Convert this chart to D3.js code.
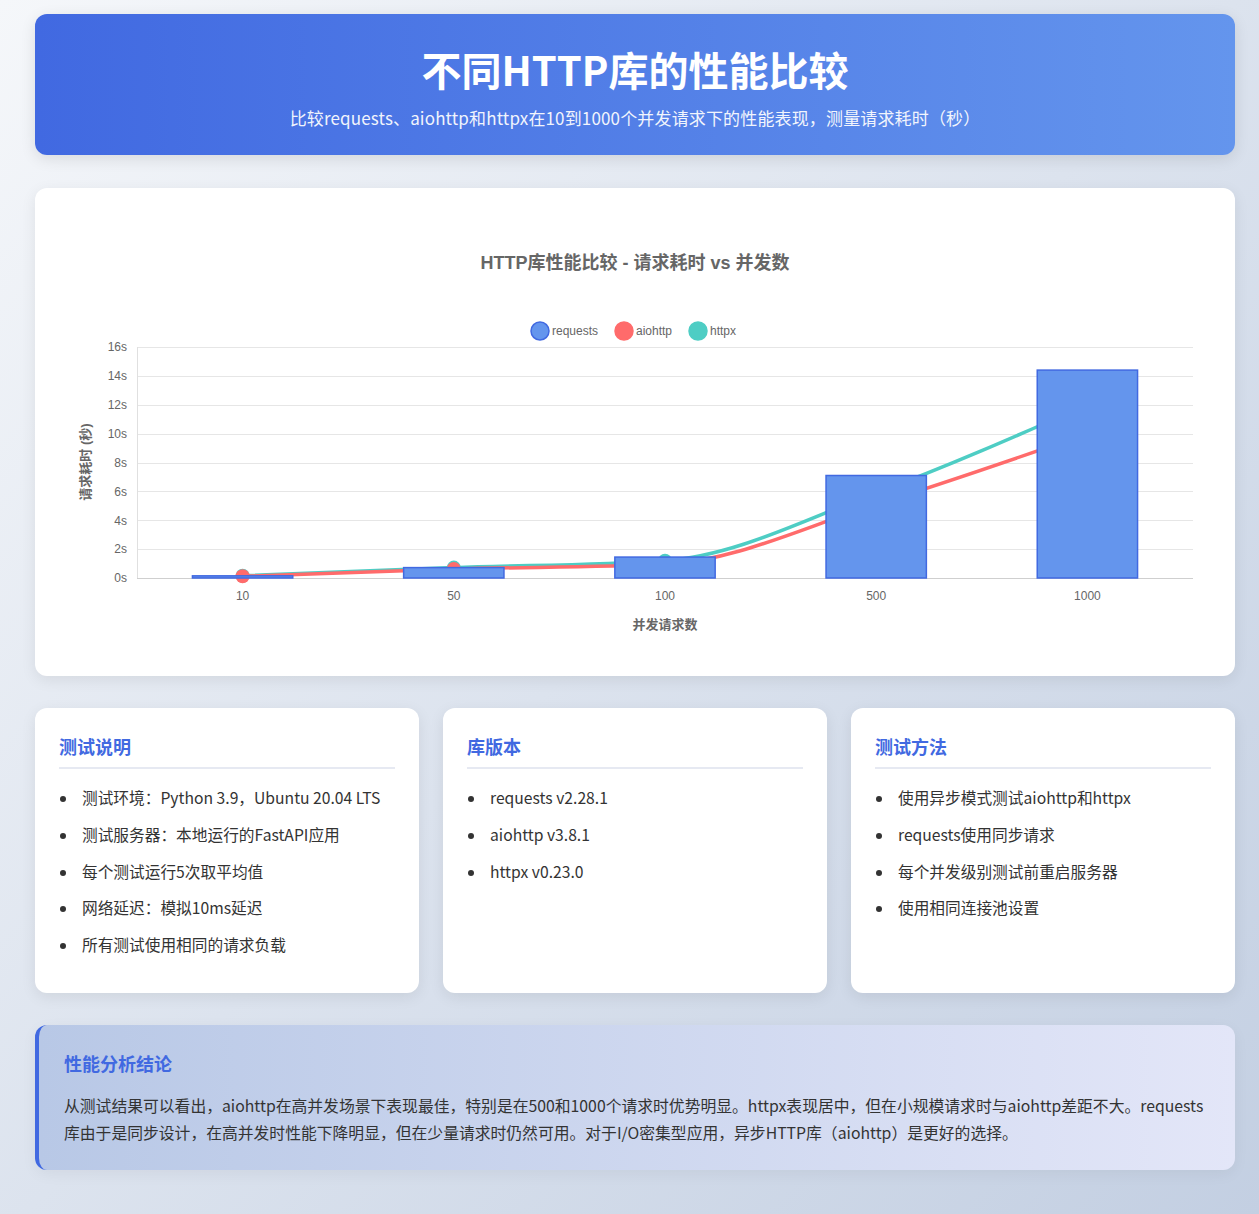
<!DOCTYPE html>
<html lang="zh-CN">
<head>
<meta charset="utf-8">
<script src="https://cdn.jsdelivr.net/npm/d3@7"></script>
<style>
  * { box-sizing: border-box; margin: 0; padding: 0; }
  html, body { width: 1259px; height: 1214px; overflow: hidden; }
  body {
    background: linear-gradient(135deg, #f5f7fa 0%, #c3cfe2 100%);
    font-family: "Noto Sans CJK SC", sans-serif;
    color: #333;
    position: relative;
  }
  .header {
    position: absolute; left: 35px; top: 14px; width: 1200px; height: 141px;
    border-radius: 12px;
    background: linear-gradient(90deg, #4169e1 0%, #6495ed 100%);
    box-shadow: 0 4px 15px rgba(0,0,0,0.1);
    color: #fff; text-align: center;
  }
  .header h1 {
    position: absolute; left: 0; right: 0; top: 25px;
    font-size: 40px; font-weight: 700; line-height: 60px;
  }
  .header p {
    position: absolute; left: 0; right: 0; top: 92px;
    font-size: 17px; line-height: 24px; opacity: 0.92; letter-spacing: 0.15px;
  }
  .card {
    position: absolute; background: #fff; border-radius: 12px;
    box-shadow: 0 4px 15px rgba(0,0,0,0.08);
  }
  #chartCard { left: 35px; top: 188px; width: 1200px; height: 488px; }
  .info { top: 708px; width: 384px; height: 285px; padding: 21px 24px; }
  .info h3 {
    font-size: 18px; font-weight: 700; color: #4169e1;
    line-height: 34px; padding-bottom: 4px;
    border-bottom: 2px solid #e6e9f2;
  }
  .info ul { list-style: none; margin-top: 11px; }
  .info li {
    position: relative; padding-left: 23px;
    font-size: 15.7px; line-height: 36.8px; color: #333;
  }
  .info li::before {
    content: ""; position: absolute; left: 1px; top: 16px;
    width: 6px; height: 6px; border-radius: 50%; background: #333;
  }
  .concl {
    position: absolute; left: 35px; top: 1025px; width: 1200px; height: 145px;
    border-radius: 12px; border-left: 4px solid #4169e1;
    background: linear-gradient(90deg, #b8c8e6 0%, #e3e6f8 100%);
    padding: 23px 25px;
    box-shadow: 0 4px 15px rgba(0,0,0,0.05);
  }
  .concl h3 {
    font-size: 18px; font-weight: 700; color: #4169e1; line-height: 30px;
  }
  .concl p { margin-top: 14px; font-size: 15.8px; line-height: 27px; color: #333; white-space: nowrap; }
</style>
</head>
<body>
<div class="header">
  <h1>不同HTTP库的性能比较</h1>
  <p>比较requests、aiohttp和httpx在10到1000个并发请求下的性能表现，测量请求耗时（秒）</p>
</div>
<div class="card" id="chartCard"></div>

<div class="card info" style="left:35px">
  <h3>测试说明</h3>
  <ul>
    <li>测试环境：Python 3.9，Ubuntu 20.04 LTS</li>
    <li>测试服务器：本地运行的FastAPI应用</li>
    <li>每个测试运行5次取平均值</li>
    <li>网络延迟：模拟10ms延迟</li>
    <li>所有测试使用相同的请求负载</li>
  </ul>
</div>
<div class="card info" style="left:443px">
  <h3>库版本</h3>
  <ul>
    <li>requests v2.28.1</li>
    <li>aiohttp v3.8.1</li>
    <li>httpx v0.23.0</li>
  </ul>
</div>
<div class="card info" style="left:851px">
  <h3>测试方法</h3>
  <ul>
    <li>使用异步模式测试aiohttp和httpx</li>
    <li>requests使用同步请求</li>
    <li>每个并发级别测试前重启服务器</li>
    <li>使用相同连接池设置</li>
  </ul>
</div>

<div class="concl">
  <h3>性能分析结论</h3>
  <p>从测试结果可以看出，aiohttp在高并发场景下表现最佳，特别是在500和1000个请求时优势明显。httpx表现居中，但在小规模请求时与aiohttp差距不大。requests<br>库由于是同步设计，在高并发时性能下降明显，但在少量请求时仍然可用。对于I/O密集型应用，异步HTTP库（aiohttp）是更好的选择。</p>
</div>

<script>
// ---- data ----
const categories = ["10", "50", "100", "500", "1000"];
const requestsTimes = [0.15, 0.72, 1.45, 7.1, 14.4];
const aiohttpTimes = [0.12, 0.62, 0.95, 5.1, 10.0];
const httpxTimes = [0.16, 0.72, 1.2, 5.9, 12.0];
const yTickValues = [0, 2, 4, 6, 8, 10, 12, 14, 16];
const seriesNames = ["requests", "aiohttp", "httpx"];

// ---- chart ----
const W = 1200, H = 488;
const m = { left: 102, right: 42, top: 159, bottom: 98 };
const svg = d3.select("#chartCard").append("svg")
  .attr("width", W).attr("height", H)
  .style("font-family", "'Liberation Sans', Arial, 'Noto Sans CJK SC', sans-serif");

const x = d3.scaleBand().domain(categories).range([m.left, W - m.right]).paddingInner(0).paddingOuter(0);
const y = d3.scaleLinear().domain([0, 16]).range([H - m.bottom, m.top]);

// title
svg.append("text").attr("x", 600).attr("y", 75).attr("text-anchor", "middle")
  .attr("dominant-baseline", "central")
  .style("font-size", "18px").style("font-weight", "700").style("fill", "#666")
  .text("HTTP库性能比较 - 请求耗时 vs 并发数");

// legend
const legendItems = [
  { name: seriesNames[0], fill: "#6495ed", stroke: "#4169e1", cx: 505 },
  { name: seriesNames[1], fill: "#ff6b6b", stroke: "#ff6b6b", cx: 589 },
  { name: seriesNames[2], fill: "#4ecdc4", stroke: "#4ecdc4", cx: 663 }
];
const lg = svg.append("g");
legendItems.forEach(d => {
  lg.append("circle").attr("cx", d.cx).attr("cy", 143).attr("r", 9)
    .attr("fill", d.fill).attr("stroke", d.stroke).attr("stroke-width", 1.5);
  lg.append("text").attr("x", d.cx + 12).attr("y", 143).attr("dominant-baseline", "central")
    .style("font-size", "12px").style("fill", "#666").text(d.name);
});

// grid
const grid = svg.append("g");
grid.selectAll("line").data(yTickValues).join("line")
  .attr("x1", m.left).attr("x2", W - m.right)
  .attr("y1", d => Math.round(y(d)) + 0.5).attr("y2", d => Math.round(y(d)) + 0.5)
  .attr("stroke", d => d === 0 ? "#cfcfcf" : "#e6e6e6").attr("stroke-width", 1);
svg.append("line").attr("x1", m.left + 0.5).attr("x2", m.left + 0.5)
  .attr("y1", y(16)).attr("y2", y(0)).attr("stroke", "#e0e0e0");

// y axis
const yAxis = d3.axisLeft(y).tickValues(yTickValues).tickFormat(d => d + "s").tickSize(0).tickPadding(10);
const yg = svg.append("g").attr("transform", `translate(${m.left},0)`).call(yAxis);
yg.select(".domain").remove();
yg.selectAll("text").style("font-size", "12px").style("fill", "#666")
  .style("font-family", "'Liberation Sans', Arial, sans-serif");

// x axis
const xAxis = d3.axisBottom(x).tickSize(0).tickPadding(13);
const xg = svg.append("g").attr("transform", `translate(0,${H - m.bottom})`).call(xAxis);
xg.select(".domain").remove();
xg.selectAll("text").style("font-size", "12px").style("fill", "#666")
  .style("font-family", "'Liberation Sans', Arial, sans-serif");

// axis titles
svg.append("text").attr("x", x("100") + x.bandwidth() / 2).attr("y", 436)
  .attr("text-anchor", "middle").attr("dominant-baseline", "central")
  .style("font-size", "13px").style("font-weight", "700").style("fill", "#666")
  .text("并发请求数");
svg.append("text").attr("transform", `translate(50,274) rotate(-90)`)
  .attr("text-anchor", "middle").attr("dominant-baseline", "central")
  .style("font-size", "13px").style("font-weight", "700").style("fill", "#666")
  .text("请求耗时 (秒)");

// lines (httpx under aiohttp under bars)
const cx = c => x(c) + x.bandwidth() / 2;
const line = d3.line().x(d => cx(d[0])).y(d => y(d[1])).curve(d3.curveMonotoneX);
function drawLine(vals, color) {
  const pts = categories.map((c, i) => [c, vals[i]]);
  const g = svg.append("g");
  g.append("path").attr("d", line(pts)).attr("fill", "none")
    .attr("stroke", color).attr("stroke-width", 3.5);
  g.selectAll("circle").data(pts).join("circle")
    .attr("cx", d => cx(d[0])).attr("cy", d => y(d[1])).attr("r", 7)
    .attr("fill", color);
}
drawLine(httpxTimes, "#4ecdc4");
drawLine(aiohttpTimes, "#ff6b6b");

// bars
const barW = x.bandwidth() * 0.475;
svg.append("g").selectAll("rect").data(categories.map((c, i) => [c, requestsTimes[i]])).join("rect")
  .attr("x", d => cx(d[0]) - barW / 2)
  .attr("y", d => y(d[1]))
  .attr("width", barW)
  .attr("height", d => y(0) - y(d[1]))
  .attr("fill", "#6495ed").attr("stroke", "#4169e1").attr("stroke-width", 1.5);
</script>
</body>
</html>
